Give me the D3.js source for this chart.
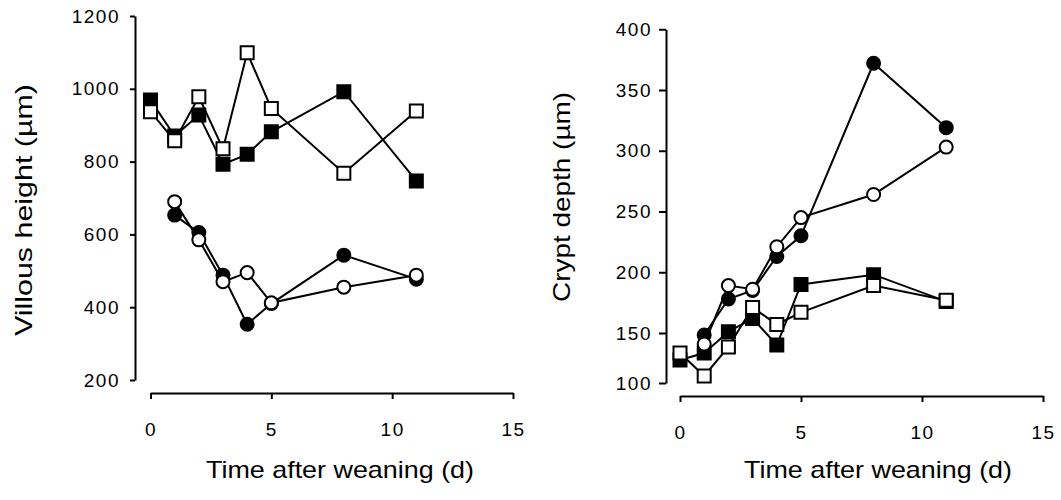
<!DOCTYPE html>
<html><head><meta charset="utf-8">
<script src="https://cdn.jsdelivr.net/npm/d3@7"></script>
<style>
body{margin:0;background:#fff;}
svg{display:block;font-family:Arial,"Liberation Sans",Helvetica,sans-serif;}
</style></head>
<body><svg id="c" width="1061" height="500"></svg>
<script>
// ---- data ----
const days = [0, 1, 2, 3, 4, 5, 8, 11];
const circleDays = [1, 2, 3, 4, 5, 8, 11];
const xTicks = [0, 5, 10, 15];

// Villous height (µm)
const villusClosedSquare = [969, 870, 928, 793, 820, 882, 992, 747];
const villusOpenSquare   = [937, 857, 978, 835, 1099, 946, 768, 939];
const villusClosedCircle = [653, 605, 488, 353, 410, 543, 477];
const villusOpenCircle   = [690, 585, 470, 495, 412, 455, 488];
const villusTicks = [200, 400, 600, 800, 1000, 1200];

// Crypt depth (µm)
const cryptClosedSquare = [123, 130, 151, 162, 138, 190, 198, 176];
const cryptOpenSquare   = [130, 107, 136, 171, 157, 167, 189, 177];
const cryptClosedCircle = [148, 178, 185, 213, 230, 372, 319];
const cryptOpenCircle   = [139, 189, 186, 221, 245, 264, 303];
const cryptTicks = [100, 150, 200, 250, 300, 350, 400];

const xTitle = "Time after weaning (d)";
const yTitleLeft = "Villous height (\u00b5m)";
const yTitleRight = "Crypt depth (\u00b5m)";

const svg = d3.select("#c");

function panel(cfg){
  const g = svg.append("g");
  const x = d3.scaleLinear().domain([0,15]).range(cfg.xRange);
  const y = d3.scaleLinear().domain(cfg.yDomain).range(cfg.yRange);

  const ya = g.append("g").attr("transform",`translate(${cfg.yAxisX},0)`)
    .call(d3.axisLeft(y).tickValues(cfg.yTicks).tickFormat(d3.format("d"))
      .tickSize(cfg.yTickSize).tickPadding(cfg.yTickPad).tickSizeOuter(0));
  const xa = g.append("g").attr("transform",`translate(0,${cfg.xAxisY})`)
    .call(d3.axisBottom(x).tickValues(xTicks).tickFormat(d3.format("d"))
      .tickSize(6).tickPadding(24).tickSizeOuter(0));
  [ya,xa].forEach(a=>{
    a.select(".domain").attr("stroke","#000").attr("stroke-width",2);
    a.selectAll(".tick line").attr("stroke","#000").attr("stroke-width",2);
    a.selectAll(".tick text").attr("fill","#000").attr("font-size",19).attr("letter-spacing",1.5)
      .attr("font-family","Arial, 'Liberation Sans', sans-serif");
  });

  const line = d3.line().x(d=>x(d[0])).y(d=>y(d[1]));
  const series = [
    {xs:days, ys:cfg.cs, shape:"square", fill:"#000"},
    {xs:circleDays, ys:cfg.cc, shape:"circle", fill:"#000"},
    {xs:days, ys:cfg.os, shape:"square", fill:"#fff"},
    {xs:circleDays, ys:cfg.oc, shape:"circle", fill:"#fff"}
  ];
  series.forEach(s=>{
    const pts = s.xs.map((d,i)=>[d,s.ys[i]]);
    g.append("path").datum(pts).attr("d",line).attr("fill","none").attr("stroke","#000").attr("stroke-width",2);
  });
  series.forEach(s=>{
    const pts = s.xs.map((d,i)=>[d,s.ys[i]]);
    const sym = d3.symbol().type(s.shape==="square"?d3.symbolSquare:d3.symbolCircle).size(s.shape==="square"?169:133);
    g.selectAll(null).data(pts).enter().append("path")
      .attr("d",sym).attr("transform",d=>`translate(${x(d[0])},${y(d[1])})`)
      .attr("fill",s.fill).attr("stroke","#000").attr("stroke-width",2);
  });

  g.append("text").attr("x",cfg.xTitleX).attr("y",cfg.xTitleY).attr("text-anchor","middle")
    .attr("font-size",24).attr("textLength",268).attr("lengthAdjust","spacingAndGlyphs").text(xTitle);
  g.append("text").attr("transform",`translate(${cfg.yTitleX},${cfg.yTitleY}) rotate(-90)`)
    .attr("text-anchor","middle").attr("dominant-baseline","central")
    .attr("font-size",24).attr("textLength",cfg.yTitleLen).attr("lengthAdjust","spacingAndGlyphs").text(cfg.yTitle);
}

panel({
  xRange:[150.5,513], yDomain:[200,1200], yRange:[380,16],
  yAxisX:135, xAxisY:393, yTicks:villusTicks, yTickSize:5, yTickPad:10,
  cs:villusClosedSquare, os:villusOpenSquare, cc:villusClosedCircle, oc:villusOpenCircle,
  xTitleX:340, xTitleY:478, yTitleX:23, yTitleY:210, yTitleLen:252, yTitle:yTitleLeft
});
panel({
  xRange:[680,1043], yDomain:[100,150,400], yRange:[383,333,29.25],
  yAxisX:666, xAxisY:396, yTicks:cryptTicks, yTickSize:7, yTickPad:7,
  cs:cryptClosedSquare, os:cryptOpenSquare, cc:cryptClosedCircle, oc:cryptOpenCircle,
  xTitleX:878, xTitleY:478, yTitleX:561, yTitleY:197, yTitleLen:210, yTitle:yTitleRight
});
</script></body></html>
